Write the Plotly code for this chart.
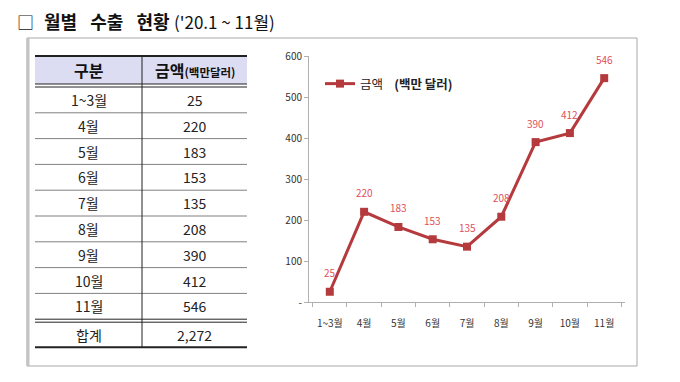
import plotly.graph_objects as go

# ---- data ----
months = ["1~3월", "4월", "5월", "6월", "7월", "8월", "9월", "10월", "11월"]
amounts = [25, 220, 183, 153, 135, 208, 390, 412, 546]
total_label = "합계"
total_value = "2,272"
y_ticks = [0, 100, 200, 300, 400, 500, 600]
y_tick_text = ["-", "100", "200", "300", "400", "500", "600"]
header_col1 = "구분"
header_col2 = "금액"
header_unit = "(백만달러)"
legend_main = "금액"
legend_unit = "(백만 달러)"
title_words = ["월별", "수출", "현황"]
title_sub = "('20.1 ~ 11월)"

# page body has an 8px margin: figure starts at page (8, 8)
OFF = 8
W, H = 680 - OFF, 382 - OFF
FONT = "Noto Sans CJK KR"
LINE_C = "#b53a3d"
LABEL_C = "#e0505c"
NB = "\u00a0"


def px(x):
    return (x - OFF) / W


def py(y):
    return 1 - (y - OFF) / H


fig = go.Figure()

fig.add_trace(go.Scatter(
    x=months, y=amounts, mode="lines+markers",
    name=legend_main + NB * 4 + "<b>" + legend_unit + "</b>",
    line=dict(color=LINE_C, width=3),
    marker=dict(symbol="square", size=8, color=LINE_C),
))

shapes = []
annotations = []


def hline(x0, x1, y, color, width):
    shapes.append(dict(type="line", xref="paper", yref="paper",
                       x0=px(x0), x1=px(x1), y0=py(y), y1=py(y),
                       line=dict(color=color, width=width)))


def text(x, y, s, size, color="#222", xanchor="center"):
    annotations.append(dict(xref="paper", yref="paper", x=px(x), y=py(y), text=s,
                            xanchor=xanchor, yanchor="middle", showarrow=False,
                            font=dict(family=FONT, size=size, color=color)))


# outer box
shapes.append(dict(type="rect", xref="paper", yref="paper",
                   x0=px(27), x1=px(637), y0=py(366), y1=py(38),
                   line=dict(color="#a8a8a8", width=1)))
shapes.append(dict(type="line", xref="paper", yref="paper",
                   x0=px(28), x1=px(28), y0=py(366), y1=py(38),
                   line=dict(color="#c4c4c4", width=3)))

# table geometry
TL, TR, TM = 35, 247, 142
top, hb1, hb2 = 56, 84, 87
row_h = 25.8
n_rows = len(months)

shapes.append(dict(type="rect", xref="paper", yref="paper", layer="below",
                   x0=px(TL), x1=px(TR), y0=py(hb1), y1=py(top),
                   fillcolor="#dcdcf2", line=dict(width=0)))
hline(TL, TR, top, "#222", 2)
hline(TL, TR, hb1, "#222", 1)
hline(TL, TR, hb2, "#222", 1)

row_tops = [hb2 + i * row_h for i in range(n_rows + 1)]
for i in range(1, n_rows):
    hline(TL, TR, row_tops[i], "#808080", 1)
d1 = row_tops[n_rows]
d2 = d1 + 3
hline(TL, TR, d1, "#222", 1)
hline(TL, TR, d2, "#222", 1)
bottom = d2 + 25
hline(TL, TR, bottom, "#222", 2)
shapes.append(dict(type="line", xref="paper", yref="paper",
                   x0=px(TM), x1=px(TM), y0=py(bottom), y1=py(top),
                   line=dict(color="#222", width=1)))

c1 = (TL + TM) / 2
c2 = (TM + TR) / 2
text(c1, (top + hb1) / 2, "<b>" + header_col1 + "</b>", 16, "#111")
text(c2, (top + hb1) / 2,
     "<b>" + header_col2 + "</b><span style='font-size:11.5px'><b>" + header_unit + "</b></span>",
     16, "#111")
for i, (m, v) in enumerate(zip(months, amounts)):
    yc = row_tops[i] + row_h / 2
    text(c1, yc, m, 14)
    text(c2, yc, str(v), 14)
yc = (d2 + bottom) / 2
text(c1, yc, total_label, 14)
text(c2, yc, total_value, 14)

# title
TY = 21
text(15, TY, "□", 17, "#111", xanchor="left")
text(42, TY, "<b>" + ("\u2002" + NB).join(title_words) + "</b>", 18, "#111", xanchor="left")
text(172, TY, title_sub, 17, "#111", xanchor="left")

# data labels
for m, v in zip(months, amounts):
    annotations.append(dict(x=m, y=v, xref="x", yref="y", text=str(v), showarrow=False,
                            xanchor="center", yanchor="middle",
                            yshift=19, font=dict(family=FONT, size=10, color=LABEL_C)))

fig.update_layout(
    width=W, height=H, margin=dict(l=0, r=0, t=0, b=0, autoexpand=False),
    paper_bgcolor="white", plot_bgcolor="white",
    shapes=shapes, annotations=annotations,
    showlegend=True,
    legend=dict(x=px(320), y=py(84), xanchor="left", yanchor="middle",
                font=dict(family=FONT, size=12.5, color="#222"),
                bgcolor="rgba(0,0,0,0)", itemwidth=30),
    xaxis=dict(domain=[px(309), px(625)], showgrid=False, showline=True,
               linecolor="#b0b0b0", linewidth=1, ticks="outside", tickson="boundaries",
               ticklen=4, tickcolor="#b0b0b0", ticklabelstandoff=12, tickangle=0,
               automargin=False,
               tickfont=dict(family=FONT, size=10, color="#333"), fixedrange=True),
    yaxis=dict(domain=[py(302), py(56)], range=[0, 600], showgrid=False, showline=True,
               linecolor="#b0b0b0", linewidth=1, ticks="outside", ticklen=4, automargin=False,
               tickcolor="#b0b0b0", tickvals=y_ticks, ticktext=y_tick_text,
               tickfont=dict(family=FONT, size=10, color="#333"), zeroline=False),
)

fig.write_html("out.html")
